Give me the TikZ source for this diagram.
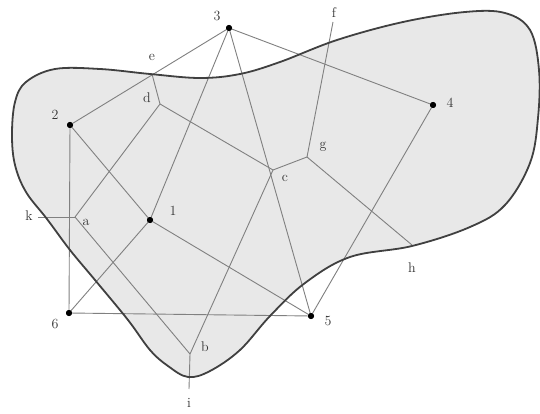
\documentclass[tikz,border=0pt]{standalone}
\usepackage{tikz}
\begin{document}
\begin{tikzpicture}[x=1pt,y=-1pt,
  edge/.style={draw=black!50, line width=0.9pt},
  blobline/.style={draw=black!75, line width=1.8pt},
  pt/.style={circle, fill=black, inner sep=0pt, minimum size=6pt},
  lbl/.style={inner sep=0pt, font=\fontsize{14}{16}\selectfont, text=black!80}]
\useasboundingbox (0,0) rectangle (540,414);
\fill[white] (0,0) rectangle (540,414);
% blob fill
\fill[black!9] plot[smooth cycle, tension=0.6] coordinates {
 (26,82) (55,69) (100,69) (150,74) (200,78) (240,74) (280,62) (337,40)
 (403,22) (465,12) (505,13) (530,30) (539,70) (538,118) (530,163)
 (505,205) (470,227) (412,246) (350,257) (305,283) (270,316) (240,350)
 (210,371) (188,377) (168,366) (150,350) (128,320) (95,280) (70,250)
 (47,219) (26,192) (15,165) (12,135) (15,102)};
% generators
\node[pt] (p3) at (229,28) {};
\node[pt] (p2) at (70,125) {};
\node[pt] (p4) at (433,105) {};
\node[pt] (p1) at (150,220) {};
\node[pt] (p6) at (69,313) {};
\node[pt] (p5) at (311,316) {};
% Voronoi vertices and free ends
\coordinate (d) at (160,104);
\coordinate (e) at (152,74);
\coordinate (a) at (75,217);
\coordinate (k) at (38,217);
\coordinate (b) at (190,354);
\coordinate (i) at (189,389);
\coordinate (c) at (273,170);
\coordinate (g) at (307,157);
\coordinate (f) at (333,22);
\coordinate (h) at (412,245);
% Delaunay edges
\foreach \u/\v in {p3/p2, p3/p4, p4/p5, p5/p6, p6/p2, p3/p1, p2/p1, p6/p1, p1/p5, p3/p5}
  \draw[edge] (\u.center) -- (\v.center);
% Voronoi edges
\foreach \u/\v in {d/e, d/a, d/c, a/k, a/b, b/c, b/i, c/g, g/f, g/h}
  \draw[edge] (\u) -- (\v);
% blob outline
\draw[blobline] plot[smooth cycle, tension=0.6] coordinates {
 (26,82) (55,69) (100,69) (150,74) (200,78) (240,74) (280,62) (337,40)
 (403,22) (465,12) (505,13) (530,30) (539,70) (538,118) (530,163)
 (505,205) (470,227) (412,246) (350,257) (305,283) (270,316) (240,350)
 (210,371) (188,377) (168,366) (150,350) (128,320) (95,280) (70,250)
 (47,219) (26,192) (15,165) (12,135) (15,102)};
% redraw dots on top
\foreach \p in {p3,p2,p4,p1,p6,p5}
  \fill[black] (\p.center) circle (3pt);
% labels
\node[lbl] (l3) at (217,16) {3};
\node[lbl] (l2) at (55,115) {2};
\node[lbl] (l4) at (450,103) {4};
\node[lbl] (l1) at (173,211) {1};
\node[lbl] (l6) at (55,324) {6};
\node[lbl] (l5) at (328,321) {5};
\node[lbl] (le) at (152,57) {e};
\node[lbl] (ld) at (147,98) {d};
\node[lbl] (lf) at (334,13) {f};
\node[lbl] (lg) at (323,147) {g};
\node[lbl] (lc) at (285,178) {c};
\node[lbl] (la) at (86,222) {a};
\node[lbl] (lk) at (29,216) {k};
\node[lbl] (lb) at (205,347) {b};
\node[lbl] (lh) at (412,268) {h};
\node[lbl] (li) at (189,403) {i};
\end{tikzpicture}
\end{document}
